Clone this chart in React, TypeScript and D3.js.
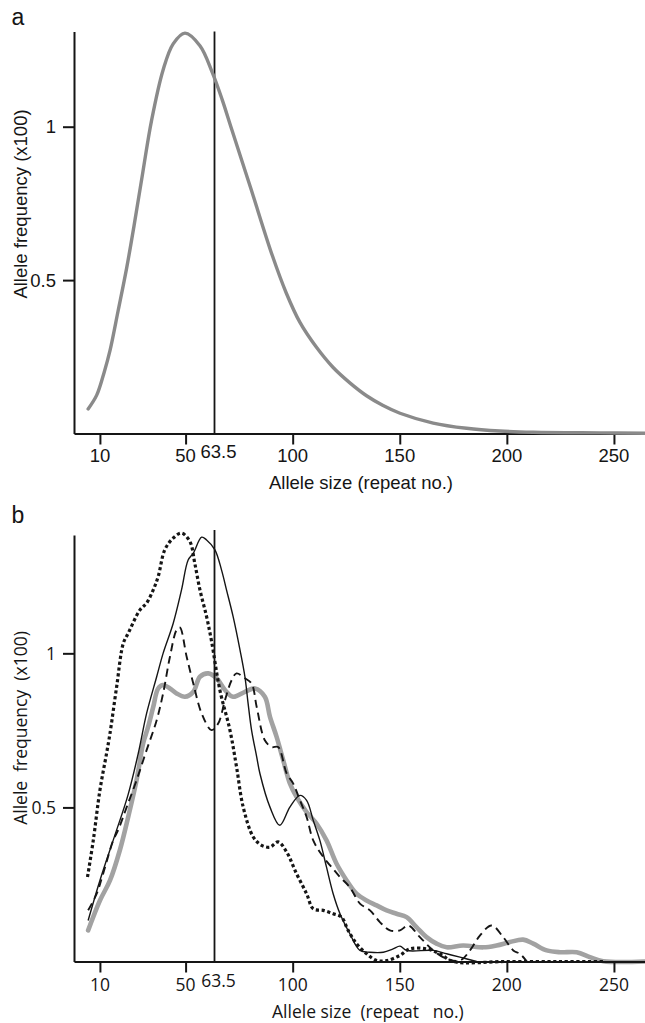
import { useEffect, useRef } from "react";
import * as d3 from "d3";

const sizeTicks = [10, 50, 100, 150, 200, 250];
const markerSize = 63.5;
const freqTicks = [0.5, 1];

// panel a: modelled allele size distribution [repeat no., freq x100]
const modelCurve = [
  [4.5, 0.08], [8.5, 0.125], [12, 0.2], [14.7, 0.27], [18.5, 0.4],
  [22.5, 0.54], [26, 0.68], [30, 0.85], [34.1, 1.02], [39.5, 1.185],
  [44.2, 1.27], [49.7, 1.305], [56.7, 1.264], [62.4, 1.178], [67, 1.09],
  [71.6, 0.99], [80.4, 0.8], [90.5, 0.58], [97, 0.458], [103.4, 0.362],
  [111.2, 0.28], [118.9, 0.215], [126.7, 0.165], [134.5, 0.123], [142, 0.092],
  [150.1, 0.066], [165.6, 0.034], [181.2, 0.017], [196.7, 0.008], [212.3, 0.004],
  [243.5, 0.002], [264.5, 0.001],
];

// panel b: observed distributions
const dottedSeries = [
  [4.2, 0.274], [6.9, 0.393], [10.0, 0.556], [13.1, 0.675], [14.7, 0.74],
  [17.8, 0.891], [20.9, 1.032], [23.2, 1.065], [28.7, 1.141], [31.8, 1.163],
  [34.9, 1.206], [37.2, 1.249], [40.3, 1.336], [44.2, 1.374], [48.1, 1.39],
  [52.0, 1.363], [54.3, 1.292], [56.7, 1.206], [59.8, 1.119], [62.1, 1.04],
  [66.0, 0.881], [70.7, 0.751], [73.8, 0.631], [76.9, 0.501], [81.6, 0.404],
  [85.5, 0.377], [89.4, 0.371], [93.2, 0.388], [97.2, 0.355], [101.8, 0.285],
  [106.5, 0.22], [109.6, 0.171], [114.3, 0.166], [118.9, 0.155], [122.8, 0.144],
  [125.9, 0.101], [129.8, 0.058], [134.5, 0.025], [139.2, 0.003], [143.9, 0.003],
  [150.1, 0.02], [154.7, 0.041], [162.5, 0.041], [168.7, 0.025], [175.0, 0.0],
  [200, 0.0], [225, 0.0], [246, 0.0],
];

const solidSeries = [
  [4.5, 0.133], [10, 0.263], [17, 0.41], [23.1, 0.54], [27.9, 0.675],
  [31.8, 0.805], [36.5, 0.924], [39.5, 1.0], [44.2, 1.097], [48.1, 1.206],
  [51.2, 1.303], [53.6, 1.325], [57.5, 1.377], [59.8, 1.368], [63.7, 1.336],
  [66.8, 1.27], [69.1, 1.206], [72.2, 1.119], [75.4, 1.011], [77.7, 0.924],
  [79.2, 0.837], [80.8, 0.751], [83.2, 0.664], [84.7, 0.61], [89.4, 0.501],
  [94.0, 0.442], [98.7, 0.501], [103.4, 0.539], [106.5, 0.523], [109.6, 0.458],
  [112.7, 0.393], [115.8, 0.306], [118.9, 0.22], [122.1, 0.155], [126.7, 0.09],
  [131.4, 0.036], [136.1, 0.03], [142.3, 0.03], [146.9, 0.041], [150.1, 0.05],
  [153.2, 0.036], [165.6, 0.036], [171.9, 0.025], [178.1, 0.014], [185.9, 0.0],
];

const dashedSeries = [
  [4.5, 0.166], [8.5, 0.22], [11.5, 0.285], [16.2, 0.393], [18.5, 0.426],
  [22.5, 0.501], [27.1, 0.588], [31.8, 0.686], [36.5, 0.783], [39.5, 0.87],
  [42.7, 0.989], [45.8, 1.076], [47.3, 1.084], [50.5, 0.989], [53.6, 0.902],
  [57.5, 0.805], [62.1, 0.751], [65.2, 0.772], [68.4, 0.848], [71.5, 0.913],
  [73.8, 0.935], [77.7, 0.919], [80.8, 0.902], [83.2, 0.826], [87.0, 0.718],
  [90.2, 0.696], [93.2, 0.696], [97.2, 0.61], [100.2, 0.578], [103.4, 0.523],
  [106.5, 0.469], [109.6, 0.393], [114.3, 0.339], [118.2, 0.306], [122.1, 0.274],
  [126.7, 0.241], [131.4, 0.188], [136.1, 0.166], [140.7, 0.128], [145.4, 0.101],
  [150.1, 0.101], [154.0, 0.117], [159.4, 0.079], [165.6, 0.036], [171.9, 0.009],
  [178.1, 0.003], [182.8, 0.036], [187.4, 0.084], [192.9, 0.117], [198.3, 0.079],
  [203.0, 0.036], [206.1, 0.025], [209, 0.003],
];

const greySeries = [
  [4.5, 0.101], [10.0, 0.198], [14.7, 0.263], [19.3, 0.361], [23.2, 0.469],
  [27.1, 0.588], [30.2, 0.708], [32.5, 0.761], [34.9, 0.826], [37.2, 0.886],
  [39.5, 0.897], [42.7, 0.886], [45.8, 0.87], [49.7, 0.859], [53.6, 0.875],
  [56.7, 0.924], [60.6, 0.935], [64.5, 0.919], [68.4, 0.881], [72.2, 0.859],
  [77.7, 0.875], [82.4, 0.886], [87.0, 0.859], [89.4, 0.794], [92.5, 0.729],
  [95.6, 0.653], [98.7, 0.578], [101.8, 0.534], [106.5, 0.485], [111.2, 0.447],
  [115.8, 0.393], [120.5, 0.317], [125.2, 0.263], [129.8, 0.22], [134.5, 0.198],
  [139.2, 0.182], [143.9, 0.166], [148.5, 0.155], [153.2, 0.144], [157.9, 0.111],
  [162.5, 0.079], [167.2, 0.058], [171.9, 0.046], [179.6, 0.052], [189.0, 0.046],
  [195.2, 0.052], [201.4, 0.063], [207.6, 0.071], [212.3, 0.058], [218.6, 0.036],
  [224.8, 0.03], [232.6, 0.03], [238.8, 0.014], [245.0, 0.001], [264.5, 0.0],
];

const INK = "#151515";

// axes, marker line and labels shared by both panels
const drawFrame = (svg, x, y, o) => {
  const g = svg.append("g");
  const y0 = y(0);

  g.append("g")
    .attr("transform", `translate(0,${y0})`)
    .call(d3.axisBottom(x).tickValues(sizeTicks).tickSize(11).tickSizeOuter(0).tickFormat(() => ""))
    .call((a) => a.selectAll("path, line").attr("stroke", INK).attr("stroke-width", 2));

  g.append("g")
    .attr("transform", `translate(${x.range()[0]},0)`)
    .call(d3.axisLeft(y).tickValues(freqTicks).tickSize(11).tickSizeOuter(0).tickFormat(() => ""))
    .call((a) => a.selectAll("path, line").attr("stroke", INK).attr("stroke-width", 2));

  // 63.5 repeat threshold
  g.append("line")
    .attr("x1", x(markerSize)).attr("x2", x(markerSize))
    .attr("y1", o.markerTop).attr("y2", y0)
    .attr("stroke", INK).attr("stroke-width", 1.8);

  const text = (sel) =>
    sel.attr("font-family", o.font).attr("font-size", o.fontSize).attr("fill", INK);

  g.append("g").selectAll("text").data(sizeTicks).join("text")
    .call(text)
    .attr("x", (d) => x(d)).attr("y", y0 + o.tickDy)
    .attr("text-anchor", "middle")
    .text((d) => d);

  g.append("text").call(text)
    .attr("x", x(markerSize) + 4).attr("y", y0 + o.tickDy - 4)
    .attr("text-anchor", "middle")
    .text(markerSize);

  g.append("g").selectAll("text").data(freqTicks).join("text")
    .call(text)
    .attr("x", 56).attr("y", (d) => y(d)).attr("dy", "0.36em")
    .attr("text-anchor", "end")
    .text((d) => d);

  g.append("text").call(text)
    .attr("x", o.titleX).attr("y", y0 + o.titleDy)
    .attr("text-anchor", o.titleAnchor)
    .style("white-space", "pre")
    .text(o.xTitle);

  g.append("text").call(text)
    .attr("transform", `translate(${o.yTitleX},${o.yTitleY}) rotate(-90)`)
    .attr("text-anchor", "middle")
    .style("white-space", "pre")
    .text(o.yTitle);

  g.append("text")
    .attr("x", 11.5).attr("y", o.letterY)
    .attr("font-family", "Liberation Sans, Arial, sans-serif")
    .attr("font-size", 23).attr("fill", INK)
    .text(o.letter);
};

const App = () => {
  const svgRef = useRef(null);

  useEffect(() => {
    const svg = d3.select(svgRef.current);
    svg.selectAll("*").remove();

    const x = d3.scaleLinear().domain([-2.1, 264.5]).range([74, 645]);

    // ---- panel a
    const yA = d3.scaleLinear().domain([0, 1.31]).range([433.5, 31.6]);
    drawFrame(svg, x, yA, {
      font: "Liberation Sans, Arial, sans-serif",
      fontSize: 18.5,
      tickDy: 28,
      markerTop: 31.6,
      xTitle: "Allele size (repeat no.)",
      titleX: 361,
      titleAnchor: "middle",
      titleDy: 55,
      yTitle: "Allele frequency (x100)",
      yTitleX: 27,
      yTitleY: 204,
      letter: "a",
      letterY: 25,
    });

    svg.append("path")
      .datum(modelCurve)
      .attr("fill", "none")
      .attr("stroke", "#8a8a8a")
      .attr("stroke-width", 3.4)
      .attr("stroke-linecap", "round")
      .attr("d", d3.line().x((d) => x(d[0])).y((d) => yA(d[1])).curve(d3.curveCatmullRom.alpha(0.5)));

    // ---- panel b
    const yB = d3.scaleLinear().domain([0, 1.384]).range([961.5, 535]);
    const lineB = d3.line()
      .x((d) => x(d[0]))
      .y((d) => yB(d[1]))
      .curve(d3.curveCatmullRom.alpha(0.5));

    svg.append("path")
      .datum(greySeries)
      .attr("fill", "none")
      .attr("stroke", "#a2a2a2")
      .attr("stroke-width", 4.6)
      .attr("stroke-linejoin", "round")
      .attr("stroke-linecap", "round")
      .attr("d", lineB);

    svg.append("path")
      .datum(solidSeries)
      .attr("fill", "none")
      .attr("stroke", INK)
      .attr("stroke-width", 1.4)
      .attr("stroke-linejoin", "round")
      .attr("d", lineB);

    svg.append("path")
      .datum(dashedSeries)
      .attr("fill", "none")
      .attr("stroke", INK)
      .attr("stroke-width", 1.9)
      .attr("stroke-dasharray", "8 5")
      .attr("d", lineB);

    svg.append("path")
      .datum(dottedSeries)
      .attr("fill", "none")
      .attr("stroke", INK)
      .attr("stroke-width", 3.2)
      .attr("stroke-dasharray", "3.2 2.6")
      .attr("d", lineB);

    drawFrame(svg, x, yB, {
      font: "Open Sans, Noto Sans, sans-serif",
      fontSize: 17.5,
      tickDy: 29,
      markerTop: 530,
      xTitle: "Allele size  (repeat   no.)",
      titleX: 272,
      titleAnchor: "start",
      titleDy: 56,
      yTitle: "Allele  frequency  (x100)",
      yTitleX: 26.5,
      yTitleY: 728,
      letter: "b",
      letterY: 523,
    });
  }, []);

  return (
    <svg
      ref={svgRef}
      width={645}
      height={1023}
      style={{ position: "absolute", left: 0, top: 0, background: "#fff" }}
    />
  );
};

export default App;
